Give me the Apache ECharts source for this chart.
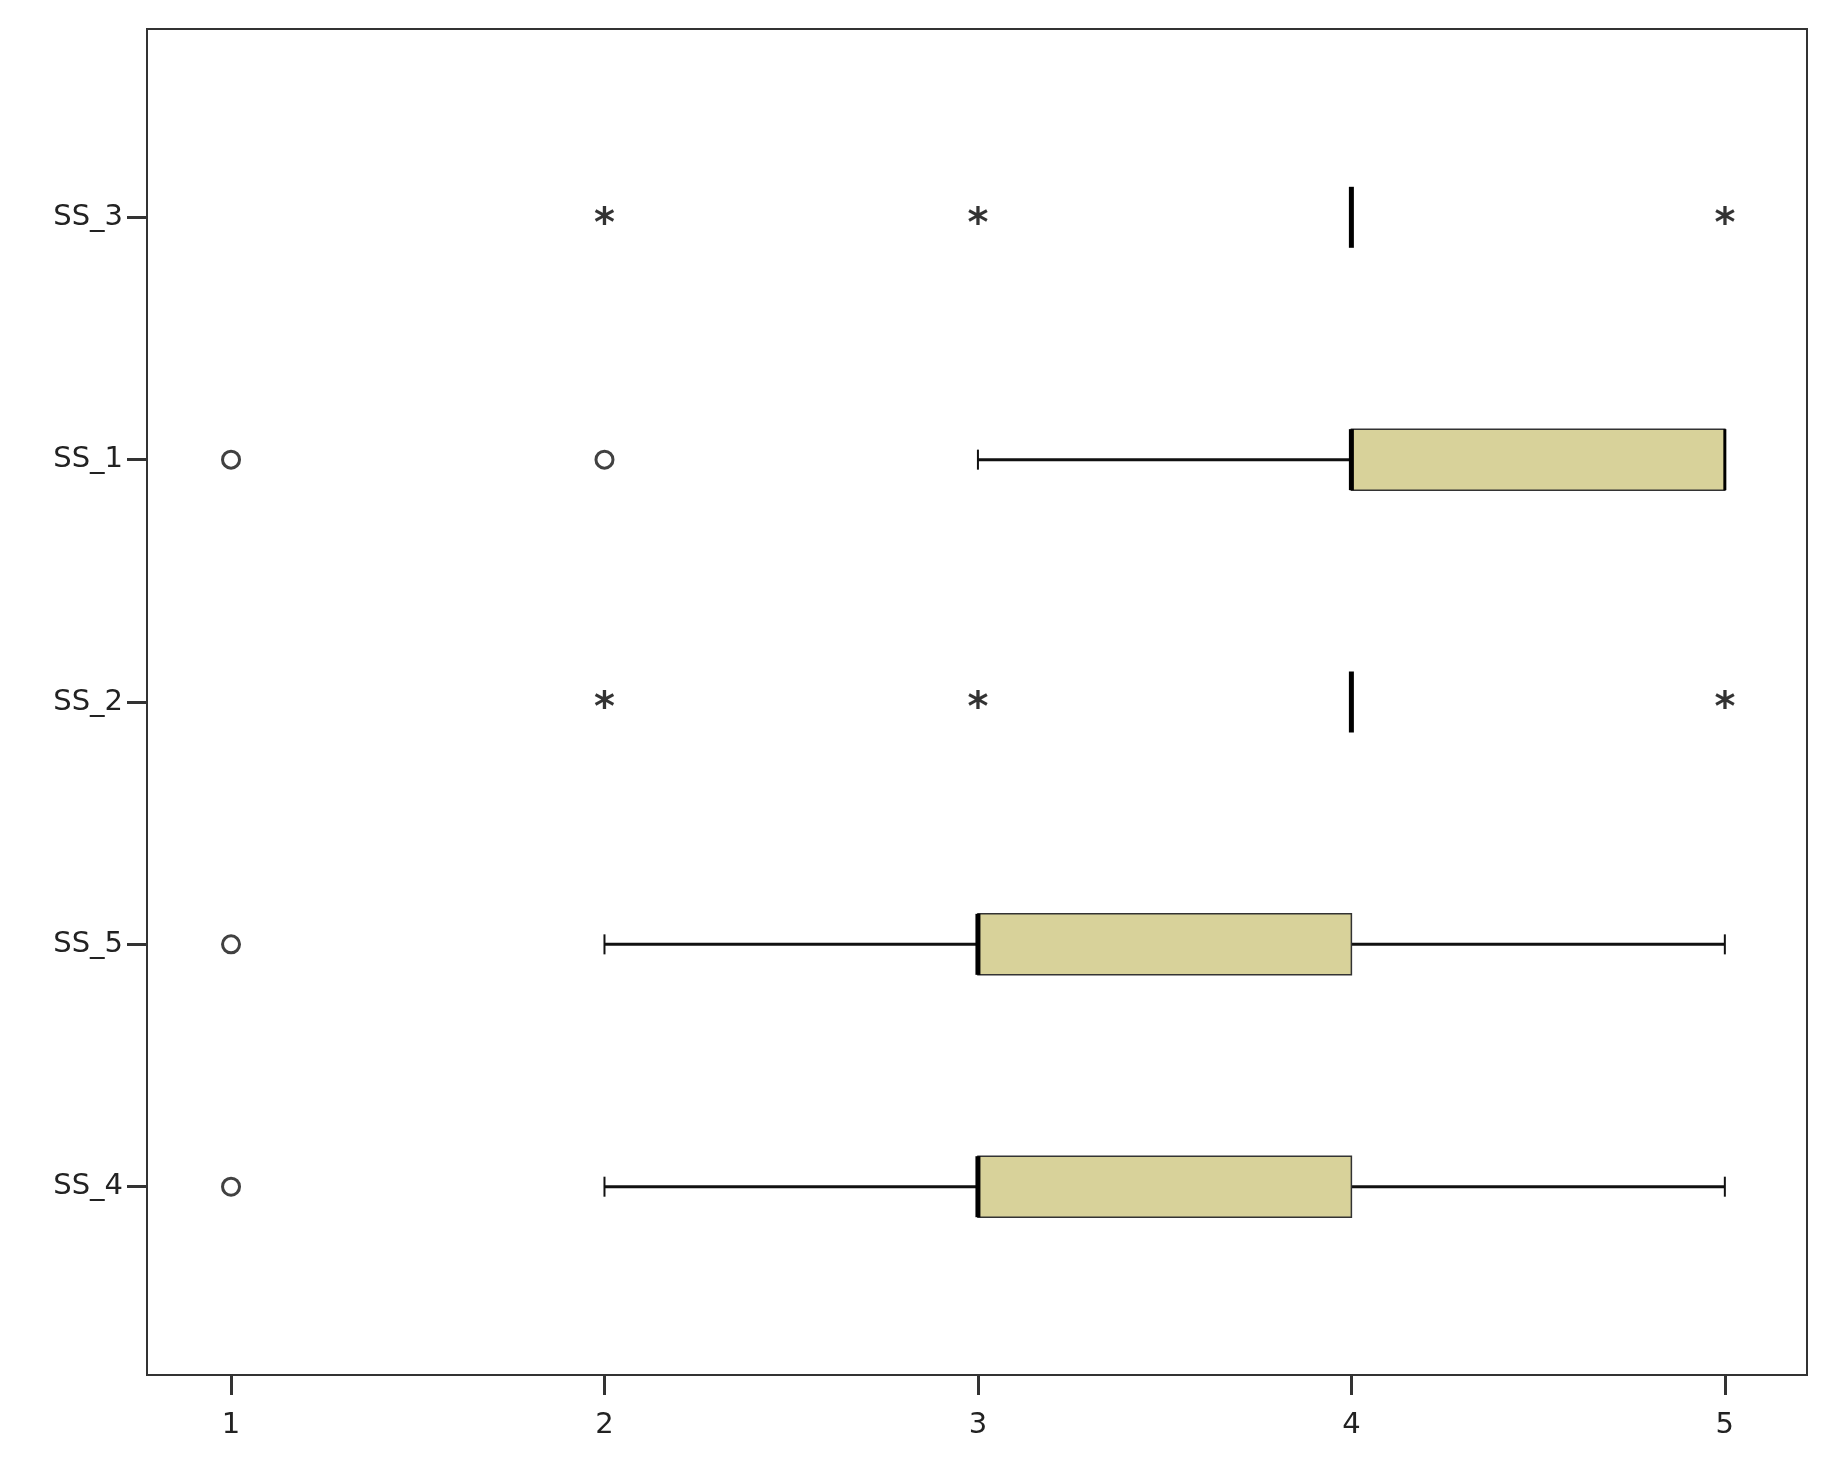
<!DOCTYPE html>
<html>
<head>
<meta charset="UTF-8">
<script src="https://cdn.jsdelivr.net/npm/echarts@6/dist/echarts.min.js"></script>
<style>
  html, body { margin: 0; background: #fff; }
  #chart { width: 1833px; height: 1479px; }
</style>
</head>
<body>
<div id="chart"></div>
<script>
var categories = ['SS_3', 'SS_1', 'SS_2', 'SS_5', 'SS_4'];
// [min, q1, median, q3, max] per category
var boxStats = [
  [4, 4, 4, 4, 4],
  [3, 4, 4, 5, 5],
  [4, 4, 4, 4, 4],
  [2, 3, 3, 4, 5],
  [2, 3, 3, 4, 5]
];
// [categoryIndex, value]
var circleOutliers = [[1, 1], [1, 2], [3, 1], [4, 1]];
var starOutliers = [[0, 2], [0, 3], [0, 5], [2, 2], [2, 3], [2, 5]];
var xTicks = [1, 2, 3, 4, 5];

var boxH = 61;
var chart = echarts.init(document.getElementById('chart'));

function renderBox(params, api) {
  var ci = api.value(0);
  var s = [api.value(1), api.value(2), api.value(3), api.value(4), api.value(5)];
  var p = s.map(function (v) { return api.coord([v, ci]); });
  var y = p[0][1];
  var h = boxH / 2;
  var ls = { stroke: '#111', lineWidth: 3 };
  var kids = [];
  if (s[0] < s[1]) {
    kids.push({ type: 'line', shape: { x1: p[0][0], y1: y, x2: p[1][0], y2: y }, style: ls });
    kids.push({ type: 'line', shape: { x1: p[0][0], y1: y - 10, x2: p[0][0], y2: y + 10 }, style: { stroke: '#111', lineWidth: 2 } });
  }
  if (s[4] > s[3]) {
    kids.push({ type: 'line', shape: { x1: p[3][0], y1: y, x2: p[4][0], y2: y }, style: ls });
    kids.push({ type: 'line', shape: { x1: p[4][0], y1: y - 10, x2: p[4][0], y2: y + 10 }, style: { stroke: '#111', lineWidth: 2 } });
  }
  if (s[3] > s[1]) {
    kids.push({ type: 'rect', shape: { x: p[1][0], y: y - h, width: p[3][0] - p[1][0], height: boxH },
      style: { fill: '#d8d29a', stroke: '#333', lineWidth: 1.5 } });
  }
  kids.push({ type: 'line', shape: { x1: p[2][0], y1: y - h, x2: p[2][0], y2: y + h }, style: { stroke: '#000', lineWidth: 5 } });
  if (s[4] === s[3] && s[3] > s[1]) {
    kids.push({ type: 'line', shape: { x1: p[4][0], y1: y - h, x2: p[4][0], y2: y + h }, style: { stroke: '#000', lineWidth: 3 } });
  }
  return { type: 'group', children: kids };
}

var option = {
  animation: false,
  grid: { left: 147, right: 26, top: 29, bottom: 104, show: true, borderColor: '#333', borderWidth: 2 },
  xAxis: {
    type: 'value', min: 0.775, max: 5.22,
    axisLine: { show: true, onZero: false, lineStyle: { color: '#333', width: 2 } },
    axisTick: { show: true, inside: false, length: 20, lineStyle: { color: '#333', width: 3 }, customValues: xTicks },
    axisLabel: { fontSize: 29, color: '#222', fontFamily: 'DejaVu Sans', margin: 36, customValues: xTicks },
    splitLine: { show: false }
  },
  yAxis: {
    type: 'value', min: -0.777, max: 4.777, inverse: true,
    axisLine: { show: true, onZero: false, lineStyle: { color: '#333', width: 2 } },
    axisTick: { show: true, inside: false, length: 20, lineStyle: { color: '#333', width: 3 }, customValues: [0, 1, 2, 3, 4] },
    axisLabel: { fontSize: 29, color: '#222', fontFamily: 'DejaVu Sans', margin: 24,
      customValues: [0, 1, 2, 3, 4], formatter: function (v) { return categories[Math.round(v)]; } },
    splitLine: { show: false }
  },
  series: [
    {
      type: 'custom', renderItem: renderBox,
      data: boxStats.map(function (s, i) { return [i].concat(s); }),
      encode: { x: [1, 2, 3, 4, 5], y: 0 }
    },
    {
      type: 'scatter', symbol: 'circle', symbolSize: 17,
      itemStyle: { color: '#fff', borderColor: '#111', borderWidth: 3 },
      data: circleOutliers.map(function (d) { return [d[1], d[0]]; })
    },
    {
      type: 'scatter', symbolSize: 1, itemStyle: { color: 'transparent' },
      label: { show: true, position: 'inside', formatter: '*', fontSize: 40, fontWeight: 'bold', color: '#000',
        fontFamily: 'DejaVu Sans', offset: [0, 8] },
      data: starOutliers.map(function (d) { return [d[1], d[0]]; })
    }
  ]
};
chart.setOption(option);
</script>
</body>
</html>
